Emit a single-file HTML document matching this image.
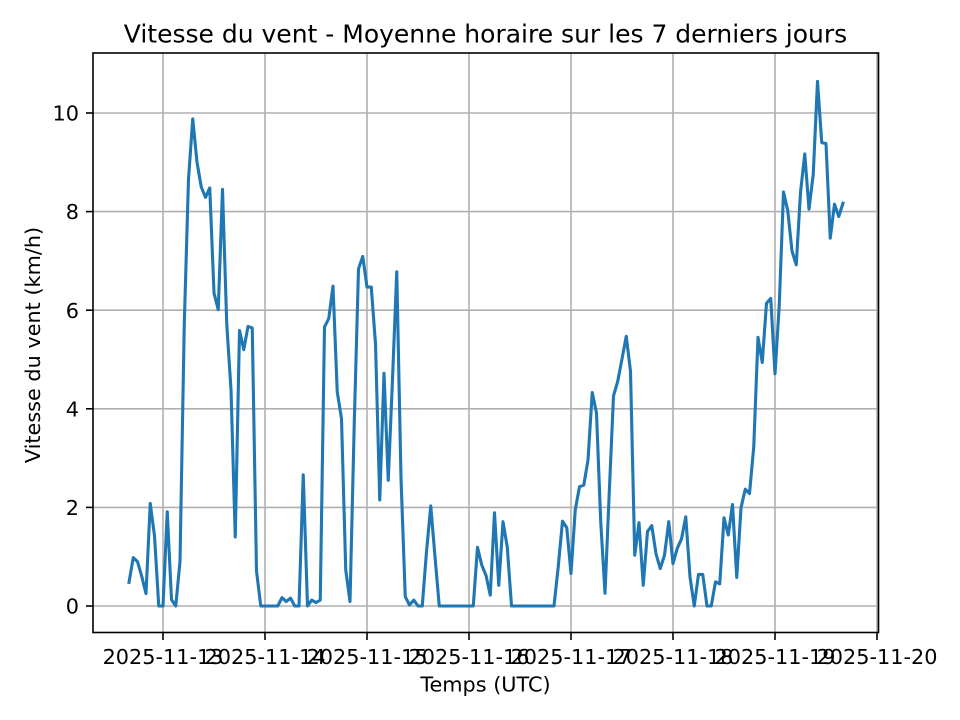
<!DOCTYPE html>
<html><head><meta charset="utf-8"><style>
html,body{margin:0;padding:0;background:#fff;}
svg{display:block;}
text{font-family:"DejaVu Sans","Liberation Sans",sans-serif;fill:#000;}
</style></head><body>
<svg width="960" height="720" viewBox="0 0 960 720" xmlns="http://www.w3.org/2000/svg">
<rect x="0" y="0" width="960" height="720" fill="#fff"/>
<defs><clipPath id="ax"><rect x="93" y="53" width="785.5" height="579.5"/></clipPath></defs>
<!-- grid -->
<g stroke="#b0b0b0" stroke-width="1.6" fill="none">
<line x1="163" y1="53" x2="163" y2="632.5"/>
<line x1="265" y1="53" x2="265" y2="632.5"/>
<line x1="367" y1="53" x2="367" y2="632.5"/>
<line x1="469" y1="53" x2="469" y2="632.5"/>
<line x1="571" y1="53" x2="571" y2="632.5"/>
<line x1="673" y1="53" x2="673" y2="632.5"/>
<line x1="775" y1="53" x2="775" y2="632.5"/>
<line x1="877" y1="53" x2="877" y2="632.5"/>
<line x1="93" y1="606" x2="878.5" y2="606"/>
<line x1="93" y1="507.4" x2="878.5" y2="507.4"/>
<line x1="93" y1="408.8" x2="878.5" y2="408.8"/>
<line x1="93" y1="310.2" x2="878.5" y2="310.2"/>
<line x1="93" y1="211.6" x2="878.5" y2="211.6"/>
<line x1="93" y1="113" x2="878.5" y2="113"/>
</g>
<!-- series -->
<g clip-path="url(#ax)">
<g transform="translate(163,606) scale(4.25,-49.3)">
<polyline vector-effect="non-scaling-stroke" fill="none" stroke="#1f77b4" stroke-width="3.1" stroke-linejoin="round" stroke-linecap="square"
points="-8,0.48 -7,0.98 -6,0.90 -5,0.6 -4,0.25 -3,2.08 -2,1.42 -1,0 0,0 1,1.91 2,0.13 3,0 4,0.9 5,5.7 6,8.66 7,9.88 8,9.0 9,8.5 10,8.29 11,8.48 12,6.35 13,6.01 14,8.45 15,5.72 16,4.39 17,1.40 18,5.59 19,5.20 20,5.67 21,5.64 22,0.71 23,0 24,0 25,0 26,0 27,0 28,0.17 29,0.09 30,0.16 31,0 32,0 33,2.66 34,0 35,0.12 36,0.07 37,0.12 38,5.66 39,5.83 40,6.49 41,4.34 42,3.80 43,0.73 44,0.09 45,3.7 46,6.84 47,7.09 48,6.47 49,6.47 50,5.32 51,2.15 52,4.72 53,2.55 54,4.6 55,6.78 56,2.6 57,0.19 58,0.02 59,0.12 60,0 61,0 62,1.1 63,2.03 64,1.0 65,0 66,0 67,0 68,0 69,0 70,0 71,0 72,0 73,0 74,1.19 75,0.83 76,0.62 77,0.22 78,1.89 79,0.42 80,1.71 81,1.2 82,0 83,0 84,0 85,0 86,0 87,0 88,0 89,0 90,0 91,0 92,0 93,0.8 94,1.72 95,1.59 96,0.66 97,1.95 98,2.42 99,2.45 100,2.96 101,4.33 102,3.91 103,1.7 104,0.26 105,2.3 106,4.26 107,4.56 108,5.01 109,5.47 110,4.76 111,1.03 112,1.69 113,0.42 114,1.51 115,1.63 116,1.06 117,0.76 118,1.03 119,1.71 120,0.86 121,1.17 122,1.36 123,1.81 124,0.59 125,0 126,0.64 127,0.64 128,0 129,0 130,0.49 131,0.45 132,1.79 133,1.44 134,2.06 135,0.58 136,1.99 137,2.37 138,2.28 139,3.23 140,5.45 141,4.94 142,6.14 143,6.24 144,4.71 145,6.1 146,8.40 147,8.02 148,7.20 149,6.92 150,8.39 151,9.17 152,8.05 153,8.76 154,10.64 155,9.40 156,9.38 157,7.46 158,8.15 159,7.90 160,8.17"/>
</g>
</g>
<!-- spines -->
<rect x="93" y="53" width="785.5" height="579.5" fill="none" stroke="#000" stroke-width="1.6"/>
<!-- ticks -->
<g stroke="#000" stroke-width="1.6">
<line x1="163" y1="632.5" x2="163" y2="640"/>
<line x1="265" y1="632.5" x2="265" y2="640"/>
<line x1="367" y1="632.5" x2="367" y2="640"/>
<line x1="469" y1="632.5" x2="469" y2="640"/>
<line x1="571" y1="632.5" x2="571" y2="640"/>
<line x1="673" y1="632.5" x2="673" y2="640"/>
<line x1="775" y1="632.5" x2="775" y2="640"/>
<line x1="877" y1="632.5" x2="877" y2="640"/>
<line x1="86" y1="606" x2="93" y2="606"/>
<line x1="86" y1="507.4" x2="93" y2="507.4"/>
<line x1="86" y1="408.8" x2="93" y2="408.8"/>
<line x1="86" y1="310.2" x2="93" y2="310.2"/>
<line x1="86" y1="211.6" x2="93" y2="211.6"/>
<line x1="86" y1="113" x2="93" y2="113"/>
</g>
<!-- tick labels -->
<g font-size="20.8" text-anchor="middle">
<text x="163" y="664">2025-11-13</text>
<text x="265" y="664">2025-11-14</text>
<text x="367" y="664">2025-11-15</text>
<text x="469" y="664">2025-11-16</text>
<text x="571" y="664">2025-11-17</text>
<text x="673" y="664">2025-11-18</text>
<text x="775" y="664">2025-11-19</text>
<text x="877" y="664">2025-11-20</text>
</g>
<g font-size="20.8" text-anchor="end">
<text x="79" y="613.6">0</text>
<text x="79" y="515">2</text>
<text x="79" y="416.4">4</text>
<text x="79" y="317.8">6</text>
<text x="79" y="219.2">8</text>
<text x="79" y="120.6">10</text>
</g>
<!-- labels -->
<text x="485.5" y="691.5" font-size="20.8" text-anchor="middle">Temps (UTC)</text>
<text transform="translate(40,345) rotate(-90)" font-size="20.8" text-anchor="middle">Vitesse du vent (km/h)</text>
<text x="485.5" y="42.3" font-size="25" text-anchor="middle">Vitesse du vent - Moyenne horaire sur les 7 derniers jours</text>
</svg>
</body></html>
